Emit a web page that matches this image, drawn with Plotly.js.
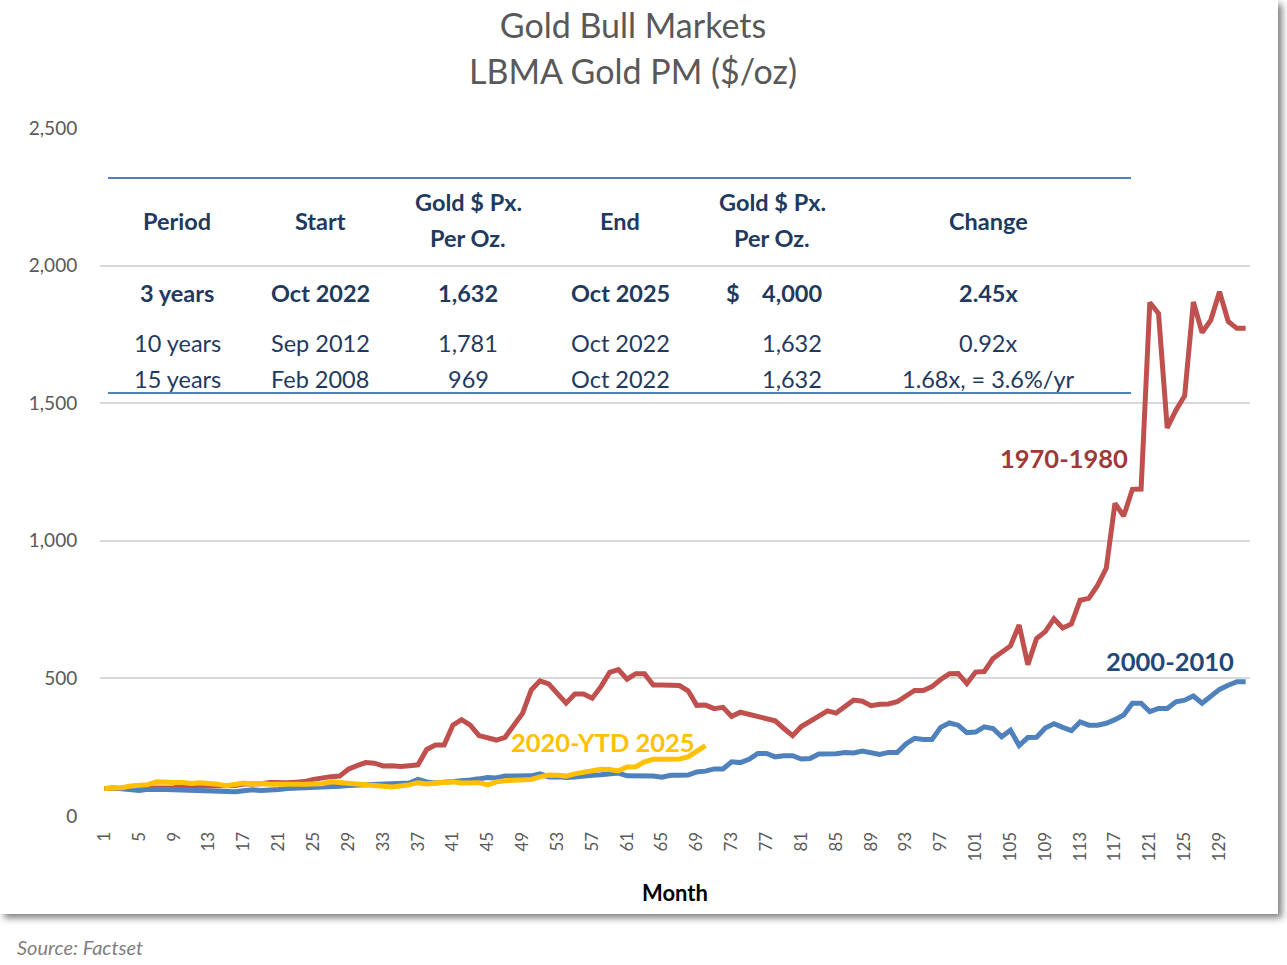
<!DOCTYPE html>
<html><head><meta charset="utf-8">
<script src="https://cdn.plot.ly/plotly-3.0.1.min.js"></script>
<style>
html,body{margin:0;padding:0;background:#fff;}
#panel{position:absolute;left:0;top:0;width:1278px;height:914px;background:#fff;box-shadow:4px 4px 7px rgba(0,0,0,0.5);}
#chart{position:absolute;left:0;top:0;width:1287px;height:965px;}
</style></head><body>
<div id="panel"></div><div id="chart"></div>
<script>
// Indexed gold price (start of each bull market = 100), by month
const red1970 = [100,100,101,102,103,101,101,101,103,107,107,107,
  109,110,111,111,116,115,117,122,120,121,123,125,
  133,140,143,145,170,183,194,192,182,183,180,183,
  186,242,258,258,330,350,330,292,282,276,286,327,
  373,458,491,480,445,410,443,443,428,470,522,532,
  497,517,517,476,476,476,474,455,402,403,390,395,
  362,377,370,363,355,346,318,292,325,346,363,382,
  374,398,421,417,401,406,407,415,434,456,456,470,
  496,517,518,481,523,525,572,594,618,694,550,645,
  670,717,683,698,784,791,838,900,1136,1090,1187,1188,
  1866,1826,1410,1475,1527,1868,1757,1802,1905,1797,1772,1772];
const blue2000 = [100,102,99,96,93,97,98,96,95,94,92,94,
  94,92,90,88,92,95,93,93,96,100,101,100,
  101,104,106,108,111,112,112,114,115,117,118,120,
  133,124,120,122,128,127,131,135,140,138,145,145,
  145,146,153,142,143,140,142,147,148,150,155,156,
  146,146,148,145,141,148,148,149,160,163,171,171,
  197,194,206,227,227,215,219,219,207,209,225,225,
  226,231,229,236,229,224,231,231,262,282,278,278,
  322,338,330,303,305,324,318,288,312,256,285,286,
  320,335,322,310,342,330,330,337,350,367,410,410,
  379,391,391,415,421,436,410,433,460,475,488,488];
const gold2020 = [100,101,103,109,112,114,124,125,122,122,118,121,
  120,115,110,114,120,116,118,115,114,115,116,115,
  116,117,124,122,118,117,112,111,108,105,108,113,
  121,116,120,121,124,120,121,121,113,124,128,131,
  133,133,142,149,148,145,153,160,166,170,169,164,
  178,179,197,206,206,206,207,215,236,256];
const xTicks = [1,5,9,13,17,21,25,29,33,37,41,45,49,53,57,61,65,69,73,77,81,85,89,93,97,101,105,109,113,117,121,125,129];
const yTicks = [0,500,1000,1500,2000,2500];
const yTickText = ['0','500','1,000','1,500','2,000','2,500'];

// Table contents
const tblHeader1 = ['', '', 'Gold $ Px.', '', 'Gold $ Px.', ''];
const tblHeader2 = ['', '', 'Per Oz.', '', 'Per Oz.', ''];
const tblHeaderMid = ['Period','Start','','End','','Change'];
const tblRows = [
  ['3 years','Oct 2022','1,632','Oct 2025','4,000','2.45x'],
  ['10 years','Sep 2012','1,781','Oct 2022','1,632','0.92x'],
  ['15 years','Feb 2008','969','Oct 2022','1,632','1.68x, = 3.6%/yr']
];

const months = red1970.map((_, i) => i + 1);
const F = 'Lato, "Open Sans", sans-serif';
const NAVY = '#1f3a5f';
const TS = 23.5;

// pixel -> paper helpers (plot area: x 100..1250, y 128..816)
const P = x => (x - 100) / 1150;
const Q = y => (816 - y) / 688;

const traces = [
  {x: months, y: red1970, type:'scatter', mode:'lines', line:{color:'#C0504D', width:5}, hoverinfo:'skip'},
  {x: months, y: blue2000, type:'scatter', mode:'lines', line:{color:'#4F81BD', width:5}, hoverinfo:'skip'},
  {x: months.slice(0, gold2020.length), y: gold2020, type:'scatter', mode:'lines', line:{color:'#FFC000', width:5}, hoverinfo:'skip'}
];

const colX = [177, 320, 468, 620, 772, 988];
const rowY = [293, 343, 379];
const ann = [];
function addText(t, x, y, bold, xa) {
  if (!t) return;
  ann.push({xref:'paper', yref:'paper', x:P(x), y:Q(y), text: bold ? '<b>'+t+'</b>' : t, showarrow:false,
    xanchor: xa || 'center', yanchor:'middle', font:{family:F, size:TS, color:NAVY}});
}
tblHeaderMid.forEach((t, i) => addText(t, colX[i], 221, true));
tblHeader1.forEach((t, i) => addText(t, colX[i], 202, true));
tblHeader2.forEach((t, i) => addText(t, colX[i], 238, true));
tblRows.forEach((row, r) => {
  row.forEach((t, i) => {
    if (i === 4) addText(t, 824, rowY[r], r === 0, 'right');
    else addText(t, colX[i], rowY[r], r === 0);
  });
});
addText('$', 733, rowY[0], true);
// series labels
ann.push({xref:'paper', yref:'paper', x:P(1064), y:Q(458), text:'<b>1970-1980</b>', showarrow:false,
  xanchor:'center', yanchor:'middle', font:{family:F, size:25.5, color:'#9E3A38'}});
ann.push({xref:'paper', yref:'paper', x:P(1170), y:Q(661), text:'<b>2000-2010</b>', showarrow:false,
  xanchor:'center', yanchor:'middle', font:{family:F, size:25.5, color:'#1F497D'}});
ann.push({xref:'paper', yref:'paper', x:P(603), y:Q(742), text:'<b>2020-YTD 2025</b>', showarrow:false,
  xanchor:'center', yanchor:'middle', font:{family:F, size:25.5, color:'#FFC000'}});
ann.push({xref:'paper', yref:'paper', x:P(15), y:Q(947), text:'<i>Source: Factset</i>', showarrow:false,
  xanchor:'left', yanchor:'middle', font:{family:F, size:20, color:'#7f7f7f'}});
// second title line
ann.push({xref:'paper', yref:'paper', x:P(633), y:Q(70), text:'LBMA Gold PM ($/oz)', showarrow:false,
  xanchor:'center', yanchor:'middle', font:{family:F, size:34, color:'#595959'}});

const shapes = [
  {type:'line', xref:'paper', yref:'paper', x0:P(108), x1:P(1131), y0:Q(178), y1:Q(178), line:{color:'#4F81BD', width:2}},
  {type:'line', xref:'paper', yref:'paper', x0:P(108), x1:P(1131), y0:Q(393), y1:Q(393), line:{color:'#4F81BD', width:2}}
];

const layout = {
  width:1287, height:965,
  margin:{l:100, r:37, t:128, b:149},
  paper_bgcolor:'rgba(0,0,0,0)', plot_bgcolor:'rgba(0,0,0,0)',
  showlegend:false,
  font:{family:F, color:'#595959'},
  title:{text:'Gold Bull Markets', xref:'container', yref:'container',
    x:633/1287, y:1 - 26/965, xanchor:'center', yanchor:'middle', font:{family:F, size:34, color:'#595959'}},
  xaxis:{type:'linear', range:[0.5, 132.5], tickmode:'array', tickvals:xTicks, ticktext:xTicks.map(String),
    tickangle:-90, showgrid:false, zeroline:false, showline:false, ticks:'outside', ticklen:8,
    tickcolor:'rgba(0,0,0,0)', tickfont:{family:F, size:17, color:'#595959'},
    title:{text:'<b>Month</b>', standoff:25, font:{family:F, size:22, color:'#000'}}},
  yaxis:{range:[0, 2500], tickmode:'array', tickvals:yTicks, ticktext:yTickText, showgrid:true,
    gridcolor:'#d9d9d9', gridwidth:2, zeroline:false, showline:false, ticks:'outside', ticklen:18,
    tickcolor:'rgba(0,0,0,0)', tickfont:{family:F, size:19, color:'#595959'}},
  annotations:ann, shapes:shapes
};
Plotly.newPlot('chart', traces, layout, {displayModeBar:false, staticPlot:true});
</script></body></html>
